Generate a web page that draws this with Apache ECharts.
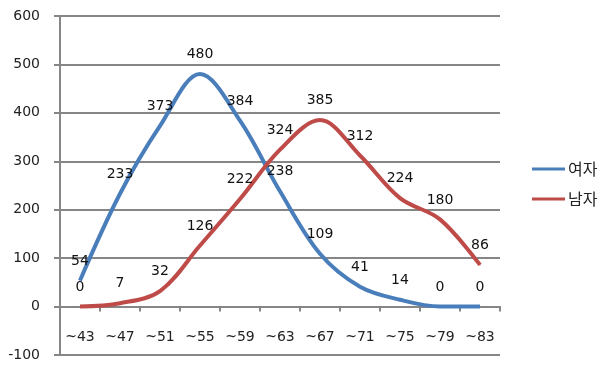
<!DOCTYPE html>
<html>
<head>
<meta charset="utf-8">
<script src="https://cdn.jsdelivr.net/npm/echarts@6/dist/echarts.min.js"></script>
<style>
  html, body { margin: 0; padding: 0; background: #fff; }
  #chart { width: 600px; height: 365px; }
</style>
</head>
<body>
<div id="chart"></div>
<script>
// Age bands on the category axis
const ageBands = ['~43', '~47', '~51', '~55', '~59', '~63', '~67', '~71', '~75', '~79', '~83'];
// Counts per age band
const female = [54, 233, 373, 480, 384, 238, 109, 41, 14, 0, 0];
const male = [0, 7, 32, 126, 222, 324, 385, 312, 224, 180, 86];
const seriesNames = ['여자', '남자'];
const yMin = -100, yMax = 600, yStep = 100;

const gray = '#868686';
const textFont = '"DejaVu Sans", "Noto Sans CJK KR", sans-serif';

function lineSeries(name, data, color) {
  return {
    name: name,
    type: 'line',
    data: data,
    smooth: 0.35,
    symbol: 'circle',
    symbolSize: 1,
    itemStyle: { color: color },
    lineStyle: { color: color, width: 4 },
    label: {
      show: true,
      position: 'top',
      distance: 12,
      color: '#111',
      fontSize: 14,
      fontFamily: textFont
    },
    emphasis: { disabled: true }
  };
}

const chart = echarts.init(document.getElementById('chart'), null, { renderer: 'canvas' });
chart.setOption({
  animation: false,
  backgroundColor: '#ffffff',
  grid: { left: 60, right: 100, top: 16, bottom: 10, containLabel: false, outerBoundsMode: 'none' },
  legend: {
    orient: 'vertical',
    left: 527,
    top: 156,
    itemWidth: 33,
    itemHeight: 3,
    itemGap: 14,
    icon: 'rect',
    data: seriesNames,
    textStyle: { fontSize: 16, color: '#222', fontFamily: '"Noto Sans CJK KR", sans-serif', padding: [0, 0, 0, -2] }
  },
  xAxis: {
    type: 'category',
    data: ageBands,
    boundaryGap: true,
    axisLine: { onZero: true, lineStyle: { color: gray, width: 2 } },
    axisTick: { show: true, length: 5, lineStyle: { color: gray, width: 2 } },
    axisLabel: { margin: -25, fontSize: 14, color: '#222', fontFamily: textFont }
  },
  yAxis: {
    type: 'value',
    min: yMin,
    max: yMax,
    interval: yStep,
    axisLine: { show: true, lineStyle: { color: gray, width: 2 } },
    axisTick: { show: true, length: 6, lineStyle: { color: gray, width: 2 } },
    axisLabel: { margin: 20, fontSize: 14, color: '#222', fontFamily: textFont },
    splitLine: { show: true, lineStyle: { color: gray, width: 2 } }
  },
  series: [
    lineSeries(seriesNames[0], female, '#4A7EBB'),
    lineSeries(seriesNames[1], male, '#BE4B48')
  ]
});
</script>
</body>
</html>
